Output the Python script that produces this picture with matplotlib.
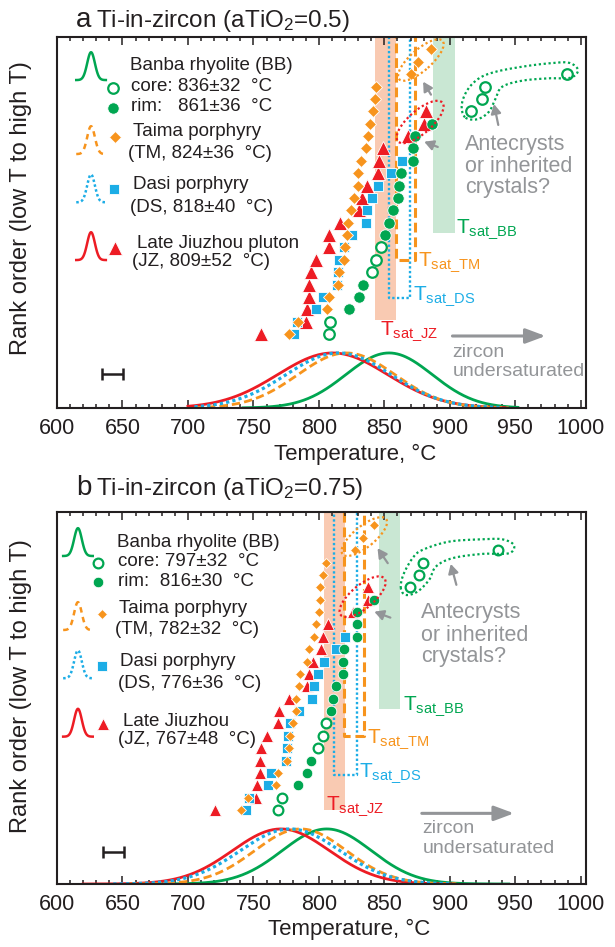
import numpy as np
import matplotlib
matplotlib.use("Agg")
import matplotlib.pyplot as plt
from matplotlib.patches import Ellipse
from matplotlib.ticker import MultipleLocator
from matplotlib.transforms import ScaledTranslation

plt.rcParams["font.family"] = ["Liberation Sans", "DejaVu Sans"]
plt.rcParams["mathtext.fontset"] = "custom"
plt.rcParams["mathtext.rm"] = "Liberation Sans"
plt.rcParams["text.color"] = "#231f20"

GREEN = "#00a651"
ORANGE = "#f7941d"
BLUE = "#1cade6"
RED = "#ed1c24"
GREY = "#939598"
INK = "#231f20"
SALMON = "#f9caB2"
MINT = "#c9e7d3"

# ---- panel a : aTiO2 = 0.5 (temperatures in rank order, deg C) ----
a_jz = [756.0, 790.2, 790.7, 792.2, 792.8, 794.3, 797.9, 807.5, 808.0, 816.2,
        830.9, 832.9, 836.4, 844.8, 845.6, 848.6, 868.4, 880.4, 881.7]
a_tm = [777.0, 783.8, 805.9, 808.0, 814.3, 815.6, 818.9, 820.0, 821.2, 822.0,
        824.5, 827.0, 829.6, 829.6, 832.4, 836.0, 837.2, 839.0, 841.5, 842.8,
        844.0, 870.2, 876.0, 885.5]
a_ds = [781.3, 783.1, 797.9, 802.9, 813.6, 814.3, 815.1, 819.4, 825.3, 836.0,
        836.4, 840.5, 844.8, 855.0, 863.4]
a_bb_core = [807.5, 808.5, 840.5, 844.0, 847.4, 916.0, 924.8, 926.9, 989.6]
a_bb_rim = [823.2, 830.9, 833.9, 850.7, 853.7, 856.8, 860.6, 861.3, 862.6,
            871.5, 871.5, 873.5, 886.2]
# distribution curves: BB, JZ, TM, DS
a_curve_mu = [853.6, 810.5, 821.0, 815.0]
a_curve_sd = [33.0, 42.0, 37.0, 40.0]
a_curve_lo = [742, 700, 705, 705]
a_curve_hi = [952, 942, 945, 940]
# zircon saturation temperature ranges: JZ, TM, DS, BB
a_tsat = [(843.0, 858.8), (858.8, 873.5), (853.2, 869.5), (887.5, 904.0)]
a_stats = ["836±32", "861±36", "824±36", "818±40", "809±52"]

# ---- panel b : aTiO2 = 0.75 ----
b_jz = [720.4, 752.2, 752.6, 754.7, 754.7, 756.0, 760.2, 768.6, 769.4, 776.8,
        790.7, 792.8, 795.3, 801.7, 803.4, 806.7, 825.8, 837.2, 837.2]
b_tm = [740.7, 745.8, 766.9, 768.6, 775.5, 777.5, 777.9, 780.0, 782.3, 782.9,
        784.9, 785.4, 791.2, 792.2, 796.3, 797.6, 799.8, 800.8, 801.1, 803.2,
        805.7, 827.8, 833.4, 841.8]
b_ds = [744.5, 746.3, 761.0, 763.2, 774.7, 775.4, 776.2, 777.8, 785.1, 795.0,
        796.0, 799.1, 803.7, 813.1, 820.2]
b_bb_core = [768.6, 772.2, 799.1, 802.9, 805.2, 869.7, 876.6, 879.6, 937.0]
b_bb_rim = [783.8, 790.7, 794.3, 808.9, 810.5, 812.7, 818.1, 818.7, 819.4,
            828.8, 828.8, 828.8, 842.3]
b_curve_mu = [806.0, 771.0, 786.0, 778.0]
b_curve_sd = [34.0, 37.0, 35.0, 38.0]
b_curve_lo = [662, 620, 655, 643]
b_curve_hi = [945, 903, 905, 900]
b_tsat = [(804.2, 820.2), (818.9, 834.7), (811.8, 829.1), (845.6, 861.9)]
b_stats = ["797±32", "816±30", "782±32", "776±36", "767±48"]


def closed_spline(pts, n=12):
    P = np.asarray(pts, float)
    m = len(P)
    t = np.linspace(0, 1, n, endpoint=False)[:, None]
    out = []
    for i in range(m):
        p0, p1, p2, p3 = P[i - 1], P[i], P[(i + 1) % m], P[(i + 2) % m]
        out.append(0.5 * (2 * p1 + (p2 - p0) * t + (2 * p0 - 5 * p1 + 4 * p2 - p3) * t ** 2
                          + (3 * p1 - p0 - 3 * p2 + p3) * t ** 3))
    out = np.vstack(out)
    return np.vstack([out, out[:1]])


def ring(ax, x, y, w, h, ang, color):
    tr = ax.figure.dpi_scale_trans + ScaledTranslation(x, y, ax.transData)
    ax.add_patch(Ellipse((0, 0), w / 100, h / 100, angle=ang, transform=tr, fill=False,
                         ec=color, lw=1.6, ls=(0, (1, 1.2)), zorder=6))


def bell(ax, x0, y0, color, ls, lw=1.8):
    t = np.linspace(-1, 1, 80)
    ax.plot(x0 + 11.3 * t, y0 + 2.25 * np.exp(-t ** 2 / (2 * 0.26 ** 2)),
            color=color, ls=ls, lw=lw, clip_on=False)


def panel(ax, jz, tm, ds, core, rim, mu, sd, lo, hi, tsat, stats, L):
    ax.set_xlim(600, 1004)
    ax.set_ylim(*L["ylim"])
    top = 30
    # saturation temperature bands / boxes
    ax.fill_between(tsat[0], L["bots"][0], top, color=SALMON, lw=0, zorder=0.5)
    ax.fill_between(tsat[3], L["bots"][3], top, color=MINT, lw=0, zorder=0.5)
    x0, x1 = tsat[2]
    ax.plot([x0, x0, x1, x1], [top, L["bots"][2], L["bots"][2], top], color=BLUE,
            lw=1.7, ls=(0, (1, 1)), zorder=1)
    x0, x1 = tsat[1]
    ax.plot([x0, x0, x1, x1], [top, L["bots"][1], L["bots"][1], top], color=ORANGE,
            lw=2.2, ls=(0, (3.2, 1.6)), zorder=1)
    names = ["JZ", "TM", "DS", "BB"]
    cols = [RED, ORANGE, BLUE, GREEN]
    for (x, y), nm, c in zip(L["tlab"], names, cols):
        ax.text(x, y, r"$\mathregular{T_{sat\_%s}}$" % nm, color=c, fontsize=15,
                ha="left", va="baseline", zorder=7)

    # distribution curves
    base = L["ylim"][0]
    styles = [(GREEN, "-", 2.0), (RED, "-", 2.0), (ORANGE, (0, (3, 1.5)), 2.0),
              (BLUE, (0, (1, 1)), 2.3)]
    for m, s, a, b, (c, ls, lw) in zip(mu, sd, lo, hi, styles):
        x = np.linspace(a, b, 300)
        ax.plot(x, base + 4.45 * np.exp(-0.5 * ((x - m) / s) ** 2), color=c, ls=ls,
                lw=lw, zorder=2)

    # rank-order points
    ms = L["ms"]
    ax.plot(jz, np.arange(len(jz)), "^", color=RED, ms=ms[0], mec="white", mew=0.6, zorder=3)
    ax.plot(ds, np.arange(len(ds)), "s", color=BLUE, ms=ms[1], mec="white", mew=0.6, zorder=3)
    ax.plot(tm, np.arange(len(tm)), "D", color=ORANGE, ms=ms[2], mec="white", mew=0.6, zorder=3)
    bb = np.array(core + rim)
    rank = np.empty(len(bb))
    rank[np.argsort(bb, kind="stable")] = np.arange(len(bb))
    nc = len(core)
    ax.plot(rim, rank[nc:], "o", color=GREEN, ms=ms[3], mec="white", mew=0.6, zorder=4)
    ax.plot(core, rank[:nc], "o", mfc="white", mec=GREEN, ms=ms[3] - 0.6, mew=1.6, zorder=4)

    # outlined groups and pointers
    ring(ax, *L["ring_tm"], ORANGE)
    ring(ax, *L["ring_jz"], RED)
    blob = closed_spline(L["blob"])
    ax.plot(blob[:, 0], blob[:, 1], color=GREEN, lw=1.6, ls=(0, (1, 1.2)), zorder=6)
    for tail, head in L["pointers"]:
        ax.annotate("", xy=head, xytext=tail, zorder=6,
                    arrowprops=dict(arrowstyle="-|>,head_length=0.55,head_width=0.3",
                                    color=GREY, lw=1.6, mutation_scale=10,
                                    shrinkA=0, shrinkB=0))
    ax_, ys = L["ante"]
    for y, s in zip(ys, ["Antecrysts", "or inherited", "crystals?"]):
        ax.text(ax_, y, s, color=GREY, fontsize=15.5, ha="left", va="center")

    (tx, ty), (hx, hy) = L["arrow"]
    ax.annotate("", xy=(hx, hy), xytext=(tx, ty),
                arrowprops=dict(arrowstyle="-|>,head_length=0.75,head_width=0.28",
                                color=GREY, lw=2.2, mutation_scale=16, shrinkA=0, shrinkB=0))
    zx, zy1, zy2 = L["zircon"]
    ax.text(zx, zy1, "zircon", color=GREY, fontsize=14, ha="left", va="center")
    ax.text(zx, zy2, "undersaturated", color=GREY, fontsize=14, ha="left", va="center")
    ax.errorbar([L["err"][0]], [L["err"][1]], xerr=[7.9], color=INK, lw=1.8, capsize=4,
                capthick=1.8)

    # key
    ix = L["icon_x"]
    iy = L["icon_y"]
    bell(ax, ix, iy[0], GREEN, "-")
    bell(ax, ix, iy[1], ORANGE, (0, (2.2, 1.8)))
    bell(ax, ix, iy[2], BLUE, (0, (1, 1)))
    bell(ax, ix, iy[3], RED, "-")
    mk = L["marks"]
    ax.plot(*mk[0], "o", mfc="white", mec=GREEN, ms=ms[3] - 0.6, mew=1.6)
    ax.plot(*mk[1], "o", color=GREEN, ms=ms[3], mec="white", mew=0.6)
    ax.plot(*mk[2], "D", color=ORANGE, ms=ms[2] + 0.8, mec="white", mew=0.6)
    ax.plot(*mk[3], "s", color=BLUE, ms=ms[1] + 0.4, mec="white", mew=0.6)
    ax.plot(*mk[4], "^", color=RED, ms=ms[0], mec="white", mew=0.6)
    labels = ["Banba rhyolite (BB)", "core: %s  °C" % stats[0], L["rimfmt"] % stats[1],
              "Taima porphyry", "(TM, %s  °C)" % stats[2], "Dasi porphyry",
              "(DS, %s  °C)" % stats[3], L["late"], "(JZ, %s  °C)" % stats[4]]
    for (x, y), s in zip(L["keytext"], labels):
        ax.text(x, y, s, fontsize=13.5, ha="left", va="center", color=INK)

    # axes cosmetics
    ax.xaxis.set_major_locator(MultipleLocator(50))
    ax.xaxis.set_minor_locator(MultipleLocator(10))
    ax.tick_params(axis="x", which="both", direction="in", top=True, width=1.1,
                   colors=INK, labelsize=15.5, pad=7.5)
    ax.tick_params(axis="x", which="major", length=5.5)
    ax.tick_params(axis="x", which="minor", length=3)
    ax.set_yticks([])
    for sp in ax.spines.values():
        sp.set_linewidth(1.5)
        sp.set_color(INK)
    ax.set_xlabel("Temperature, °C", fontsize=16, color=INK)
    ax.xaxis.set_label_coords(*L["xlab"])


La = dict(
    ylim=(-5.98, 24.01), bots=[1.13, 6.0, 2.88, 8.14],
    tlab=[(846.9, -0.08), (876.0, 5.5), (872.0, 2.75), (905.0, 8.19)],
    ms=[10, 7.2, 5.8, 8.2],
    ring_tm=(877.9, 22.15, 58, 21, 41.5), ring_jz=(877.3, 17.14, 59, 23, 41),
    blob=[(911.6, 17.52), (909.1, 18.51), (913.4, 19.72), (922.3, 20.67), (935.0, 21.2),
          (955.3, 21.61), (975.6, 21.88), (990.9, 21.93), (997.9, 21.34), (992.2, 20.72),
          (975.6, 20.67), (955.3, 20.48), (940.0, 19.99), (935.0, 19.05), (929.9, 17.97),
          (921.0, 17.36)],
    pointers=[((885.6, 19.35), (879.6, 20.4)), ((890.8, 15.12), (880.4, 15.55)),
              ((937.0, 16.9), (933.7, 18.59))],
    ante=(911.6, [15.34, 13.53, 11.86]),
    arrow=((902.0, -0.16), (973.1, -0.16)),
    zircon=(902.0, -1.51, -3.05), err=(642.5, -3.23),
    icon_x=626, icon_y=[20.53, 14.55, 10.65, 5.98],
    marks=[(642.9, 19.86), (642.9, 18.3), (644.2, 15.9), (643.7, 11.7), (644.2, 6.93)],
    keytext=[(655.6, 21.67), (656.4, 20.0), (656.4, 18.43), (657.7, 16.4), (654.3, 14.6),
             (658.1, 12.05), (655.6, 10.2), (661.2, 7.33), (656.9, 5.85)],
    rimfmt="rim:   %s  °C", late="Late Jiuzhou pluton", xlab=(0.563, -0.097),
)
Lb = dict(
    ylim=(-5.98, 24.11), bots=[0.0, 5.96, 2.83, 8.14],
    tlab=[(805.5, 0.0), (836.4, 5.44), (830.3, 2.69), (863.9, 8.14)],
    ms=[9, 6.6, 4.8, 7.6],
    ring_tm=(834.7, 22.1, 56, 21, 39), ring_jz=(833.4, 17.24, 57, 23, 40),
    blob=[(862.6, 17.92), (864.4, 18.99), (871.5, 20.35), (879.1, 21.02), (899.4, 21.69),
          (924.8, 21.88), (940.0, 21.88), (948.9, 21.42), (945.1, 20.75), (924.8, 20.7),
          (901.9, 20.35), (889.3, 19.67), (884.2, 18.6), (875.3, 17.65), (866.4, 17.38)],
    pointers=[((852.6, 19.95), (844.8, 21.16)), ((854.6, 15.55), (842.3, 16.03)),
              ((905.0, 18.2), (900.7, 19.89))],
    ante=(877.9, [15.95, 14.12, 12.4]),
    arrow=((878.6, -0.27), (949.0, -0.27)),
    zircon=(879.1, -1.48, -3.1), err=(643.0, -3.37),
    icon_x=616, icon_y=[20.53, 14.55, 10.65, 5.93],
    marks=[(631.0, 20.0), (631.0, 18.46), (634.0, 15.85), (634.0, 11.64), (634.8, 6.95)],
    keytext=[(646.2, 21.6), (646.7, 20.07), (646.7, 18.46), (647.5, 16.3), (644.2, 14.6),
             (648.0, 12.0), (646.7, 10.24), (650.1, 7.14), (646.7, 5.66)],
    rimfmt="rim:  %s  °C", late="Late Jiuzhou", xlab=(0.553, -0.094),
)

fig = plt.figure(figsize=(6.15, 9.47), dpi=100)
W, H = 615.0, 947.0
ax_a = fig.add_axes([57 / W, 1 - 408 / H, 529 / W, 371 / H])
ax_b = fig.add_axes([57 / W, 1 - 884 / H, 529 / W, 372.3 / H])

panel(ax_a, a_jz, a_tm, a_ds, a_bb_core, a_bb_rim, a_curve_mu, a_curve_sd, a_curve_lo,
      a_curve_hi, a_tsat, a_stats, La)
panel(ax_b, b_jz, b_tm, b_ds, b_bb_core, b_bb_rim, b_curve_mu, b_curve_sd, b_curve_lo,
      b_curve_hi, b_tsat, b_stats, Lb)

for letter, sub, yb in [("a", "0.5", 26.7), ("b", "0.75", 495.0)]:
    fig.text(76 / W, 1 - yb / H, letter, fontsize=20, va="baseline", ha="left", color=INK)
    fig.text(96.5 / W, 1 - yb / H, r"Ti-in-zircon (aTiO$\mathregular{_2}$=%s)" % sub,
             fontsize=17.5, va="baseline", ha="left", color=INK)
for yc in [208.0, 686.0]:
    fig.text(21 / W, 1 - yc / H, "Rank order (low T to high T)", rotation=90,
             fontsize=17, ha="center", va="center", color=INK)

fig.savefig("out.png", dpi=100)
